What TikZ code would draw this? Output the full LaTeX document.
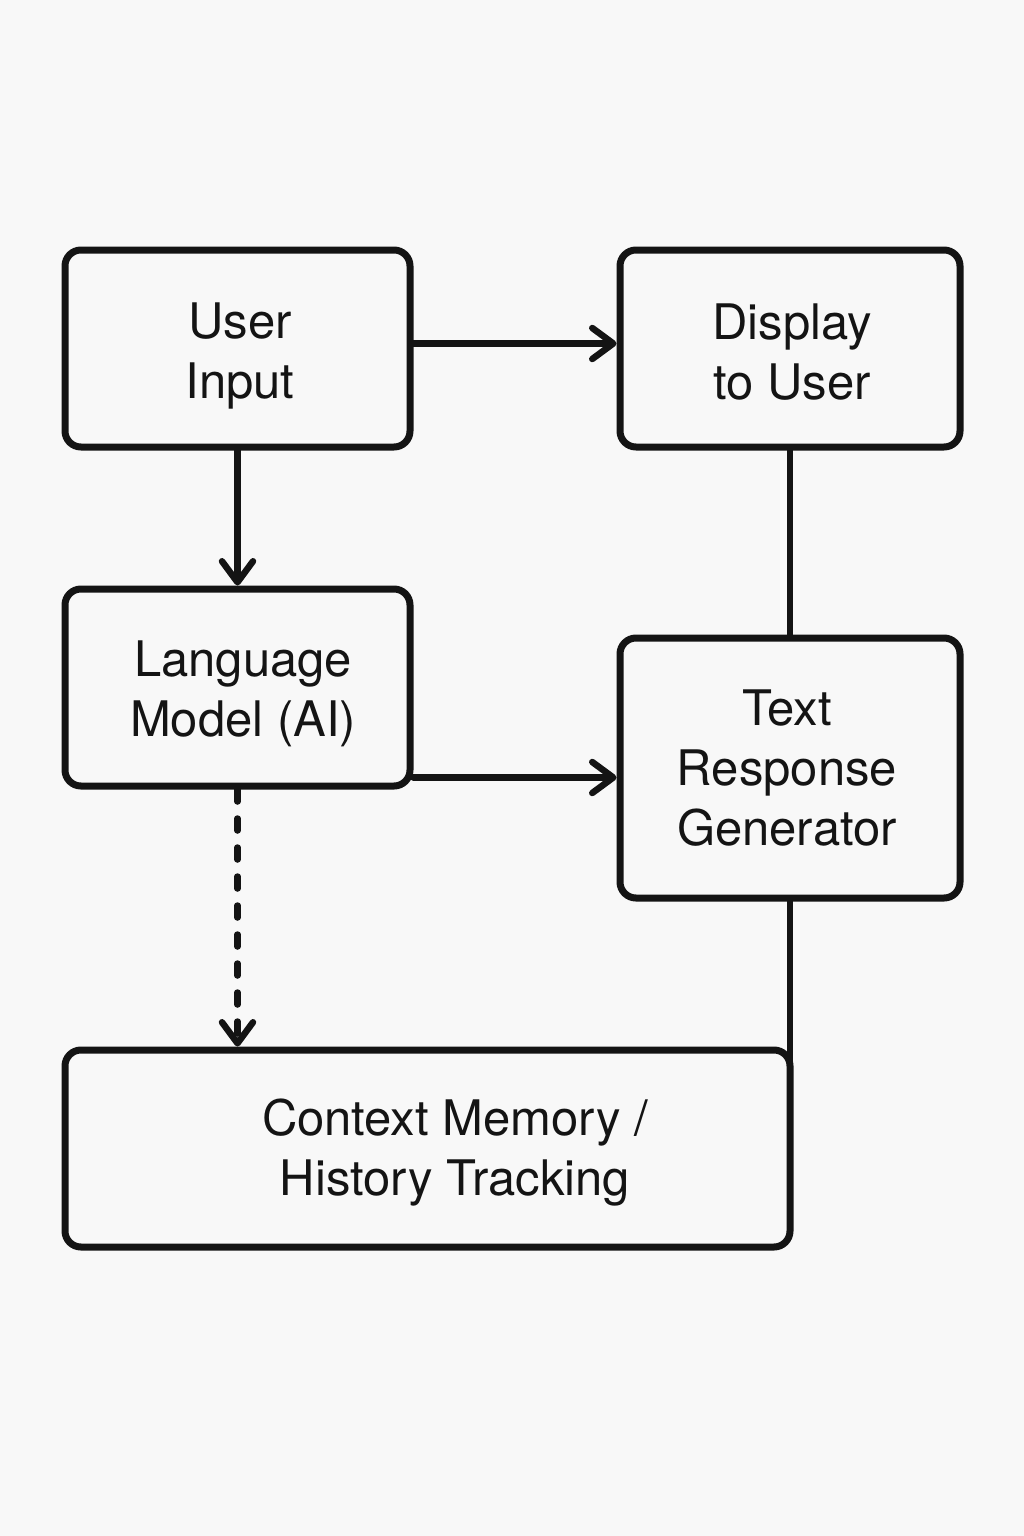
\documentclass[tikz,border=0pt]{standalone}
\usepackage{fontspec}
\setmainfont{TeX Gyre Heros}
\usetikzlibrary{arrows.meta,calc}
\definecolor{bgc}{RGB}{248,248,248}
\definecolor{ink}{RGB}{20,20,20}
\begin{document}
\begin{tikzpicture}[x=1pt,y=-1pt,
  box/.style={draw=ink,line width=7pt,rounded corners=16pt,inner sep=0pt},
  lbl/.style={align=center,font=\fontsize{49}{60}\selectfont,text=ink,inner sep=0pt},
  link/.style={draw=ink,line width=6.5pt,line cap=round},
  arr/.style={link,-{Straight Barb[length=21pt,width=31pt,line width=6.5pt,round]}}]
\fill[bgc] (0,0) rectangle (1024,1536);
\useasboundingbox (0,0) rectangle (1024,1536);
\node[box,minimum width=345pt,minimum height=197pt] (ui) at (237.5,348.5) {};
\node[box,minimum width=340pt,minimum height=197pt] (disp) at (790,348.5) {};
\node[box,minimum width=345pt,minimum height=197pt] (lm) at (237.5,687.5) {};
\node[box,minimum width=340pt,minimum height=260pt] (trg) at (790,768) {};
\node[box,minimum width=725pt,minimum height=197pt] (ctx) at (427.5,1148.5) {};
\node[lbl] (uit) at (240,355.5) {User\\Input};
\node[lbl] (dispt) at (792,352) {Display\\to User};
\node[lbl] (lmt) at (243,693.5) {Language\\Model (AI)};
\node[lbl] (trgt) at (787,768) {Text\\Response\\Generator};
\node[lbl] (ctxt) at (455,1153) {Context Memory /\\History Tracking};
\draw[arr] ([yshift=5pt]ui.east) -- ([yshift=5pt]disp.west);
\draw[arr] (ui.south) -- (lm.north);
\draw[arr] ([yshift=-90pt]lm.east) -- ([yshift=-90pt]lm.east -| trg.west);
\draw[arr,dash pattern=on 12pt off 17pt] (lm.south) -- (lm.south |- ctx.north);
\draw[link] (disp.south) -- (trg.north);
\draw[link] (trg.south) -- ([yshift=-20pt]trg.south |- ctx.north);
\end{tikzpicture}
\end{document}
